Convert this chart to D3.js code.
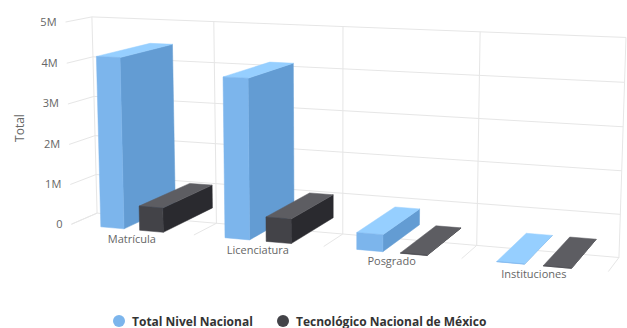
<!DOCTYPE html>
<html>
<head>
<meta charset="utf-8">
<script src="https://cdn.jsdelivr.net/npm/d3@7/dist/d3.min.js"></script>
<style>
  html, body { margin: 0; padding: 0; background: #ffffff; }
  svg { display: block; }
  text { font-family: "Open Sans", "Liberation Sans", Arial, sans-serif; }
</style>
</head>
<body>
<svg id="chart" width="627" height="328"></svg>
<script>
// ---- data ----
const categories = ["Matrícula", "Licenciatura", "Posgrado", "Instituciones"];
const seriesNames = ["Total Nivel Nacional", "Tecnológico Nacional de México"];
const totalNacional = [4200000, 3860000, 400000, 5300];
const tecnmValues = [600000, 590000, 8000, 254];
const seriesColors = ["#7cb5ec", "#434348"];
const yTicks = [0, 1000000, 2000000, 3000000, 4000000, 5000000];
const yTickLabels = ["0", "1M", "2M", "3M", "4M", "5M"];
const yTitle = "Total";

const seriesValues = [totalNacional, tecnmValues];

// ---- 3D projection (Highcharts-like) ----
const W = 544, H = 205, D = 54;          // plot box size and frame depth
const colZ0 = 0, colDepth = 118;         // column depth range
const alpha = 10 * Math.PI / 180, beta = 20 * Math.PI / 180;
const vd = 1500, S = 1.0625, CX = 333.4, CY = 136;
const sA = Math.sin(alpha), cA = Math.cos(alpha), sB = Math.sin(beta), cB = Math.cos(beta);

function proj(x, y, z) {
  const dx = x - W / 2, dy = y - H / 2, dz = z - D / 2;
  const rx = cB * dx + sB * dz;
  const ry = sA * sB * dx + cA * dy - cB * sA * dz;
  const rz = -cA * sB * dx + sA * dy + cA * cB * dz;
  const p = vd / (rz + D / 2 + vd);
  return [CX + S * p * rx, CY + S * p * ry];
}

const svg = d3.select("#chart");

const x0 = d3.scaleBand().domain(categories).range([0, W]).paddingInner(0.49).paddingOuter(0.245);
const x1 = d3.scaleBand().domain(seriesNames).range([0, x0.bandwidth()]).paddingInner(0.4);
const y = d3.scaleLinear().domain([0, 5000000]).range([H, 0]);

const line = d3.line();
const poly = pts => "M" + pts.map(p => p.join(",")).join("L") + "Z";

// ---- grid ----
const grid = svg.append("g").attr("fill", "none").attr("stroke", "#e6e6e6").attr("stroke-width", 1);
yTicks.forEach(t => {
  const yy = y(t);
  grid.append("path").attr("d", line([proj(0, yy, 0), proj(0, yy, D), proj(W, yy, D)]));
});
const xBounds = d3.range(categories.length + 1).map(i => i * x0.step());
xBounds.forEach(xb => {
  grid.append("path").attr("d", line([proj(xb, 0, D), proj(xb, H, D), proj(xb, H, 0)]));
});

// ---- y labels ----
const yl = svg.append("g").attr("font-size", 11).attr("fill", "#666666").attr("text-anchor", "end");
yTicks.forEach((t, i) => {
  const p = proj(0, y(t), 0);
  yl.append("text").attr("x", p[0] - 9).attr("y", p[1] + 3.5).text(yTickLabels[i]);
});
svg.append("text").attr("transform", "translate(24,128) rotate(-90)")
  .attr("text-anchor", "middle").attr("font-size", 12).attr("fill", "#666666").text(yTitle);

// ---- columns ----
function shade(c, k) {
  const col = d3.rgb(c);
  const f = v => Math.max(0, Math.min(255, v + k * 255));
  return d3.rgb(f(col.r), f(col.g), f(col.b)).formatHex();
}
const bars = svg.append("g");
categories.forEach((cat, ci) => {
  seriesNames.forEach((sn, si) => {
    const v = seriesValues[si][ci];
    const xa = x0(cat) + x1(sn), xb = xa + x1.bandwidth();
    const yt = y(v), yb = y(0);
    const za = colZ0, zb = colZ0 + colDepth;
    const base = seriesColors[si];
    const g = bars.append("g");
    // right side
    g.append("path").attr("d", poly([proj(xb, yt, za), proj(xb, yt, zb), proj(xb, yb, zb), proj(xb, yb, za)]))
      .attr("fill", shade(base, -0.1)).attr("stroke", shade(base, -0.1)).attr("stroke-width", 0.5);
    // top
    g.append("path").attr("d", poly([proj(xa, yt, za), proj(xb, yt, za), proj(xb, yt, zb), proj(xa, yt, zb)]))
      .attr("fill", shade(base, 0.1)).attr("stroke", shade(base, 0.1)).attr("stroke-width", 0.5);
    // front
    g.append("path").attr("d", poly([proj(xa, yt, za), proj(xb, yt, za), proj(xb, yb, za), proj(xa, yb, za)]))
      .attr("fill", base).attr("stroke", base).attr("stroke-width", 0.5);
  });
});

// ---- x labels ----
const xl = svg.append("g").attr("font-size", 11).attr("fill", "#666666").attr("text-anchor", "middle");
categories.forEach(cat => {
  const p = proj(x0(cat) + x0.bandwidth() / 2, H, 0);
  xl.append("text").attr("x", p[0]).attr("y", p[1] + 13).text(cat);
});

// ---- legend ----
const legend = svg.append("g").attr("font-size", 12).attr("font-weight", "bold").attr("fill", "#333333");
const legendX = [119, 283];
seriesNames.forEach((sn, i) => {
  legend.append("circle").attr("cx", legendX[i]).attr("cy", 321).attr("r", 6).attr("fill", seriesColors[i]);
  legend.append("text").attr("x", legendX[i] + 13).attr("y", 325.5).text(sn);
});
</script>
</body>
</html>
